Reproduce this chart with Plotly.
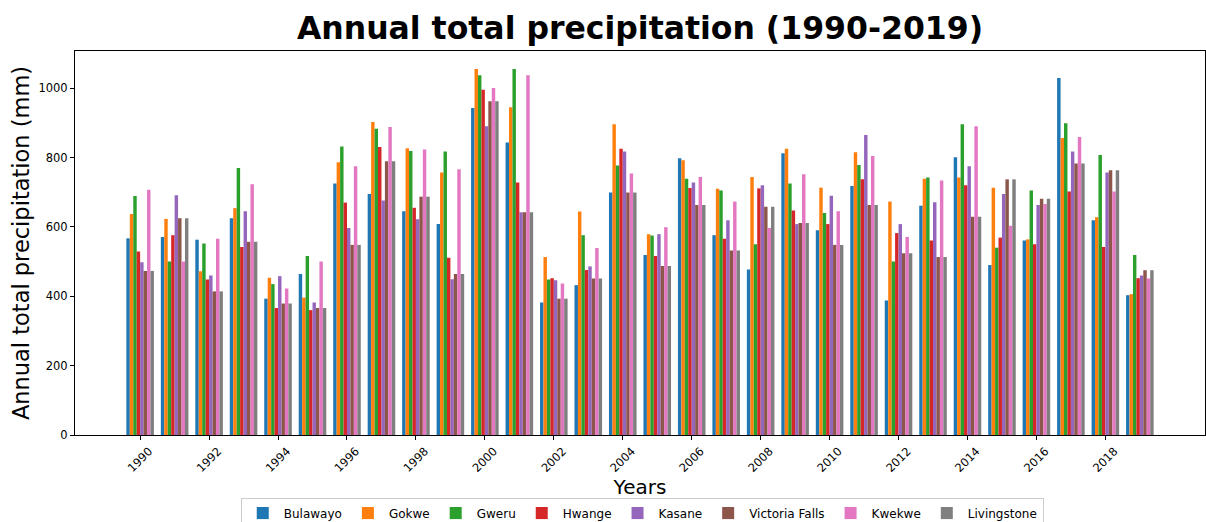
import plotly.graph_objects as go

years = list(range(1990, 2020))

stations = ["Bulawayo", "Gokwe", "Gweru", "Hwange", "Kasane",
            "Victoria Falls", "Kwekwe", "Livingstone"]

bulawayo = [567, 571, 563, 625, 393, 464, 725, 695, 645, 608, 943, 843, 382, 432, 699,
            519, 798, 576, 477, 812, 590, 718, 388, 661, 801, 490, 561, 1029, 619, 403]
gokwe = [637, 623, 472, 654, 453, 396, 786, 902, 827, 757, 1055, 945, 513, 644, 896,
         579, 792, 710, 744, 825, 713, 815, 673, 739, 742, 713, 564, 856, 628, 406]
gweru = [689, 500, 552, 770, 435, 516, 832, 883, 819, 817, 1037, 1055, 448, 576, 777,
         575, 739, 705, 550, 725, 640, 778, 500, 742, 896, 540, 705, 899, 807, 519]
hwange = [529, 576, 448, 542, 366, 360, 670, 830, 655, 511, 995, 728, 452, 476, 825,
          516, 712, 566, 711, 647, 608, 737, 582, 561, 720, 569, 550, 702, 542, 452]
kasane = [498, 691, 460, 645, 458, 382, 597, 676, 622, 449, 890, 642, 446, 486, 817,
          579, 728, 619, 720, 608, 690, 865, 608, 671, 775, 695, 663, 817, 757, 460]
victoria_falls = [473, 625, 414, 557, 379, 366, 548, 789, 687, 464, 962, 642, 393, 451, 699,
                  487, 663, 532, 658, 611, 548, 663, 524, 513, 629, 737, 681, 783, 763, 475]
kwekwe = [707, 500, 566, 723, 422, 500, 775, 888, 823, 766, 1000, 1037, 437, 539, 754,
          599, 744, 673, 597, 752, 645, 804, 571, 734, 890, 603, 666, 859, 702, 451]
livingstone = [473, 625, 414, 557, 379, 366, 548, 789, 687, 464, 962, 642, 393, 451, 699,
               487, 663, 532, 658, 611, 548, 663, 524, 513, 629, 737, 681, 783, 763, 475]

series = [bulawayo, gokwe, gweru, hwange, kasane, victoria_falls, kwekwe, livingstone]
colors = ["#1f77b4", "#ff7f0e", "#2ca02c", "#d62728",
          "#9467bd", "#8c564b", "#e377c2", "#7f7f7f"]

x_tickvals = list(range(1990, 2019, 2))
y_tickvals = [0, 200, 400, 600, 800, 1000]

FONT = "DejaVu Sans"

fig = go.Figure()
for name, vals, col in zip(stations, series, colors):
    fig.add_trace(go.Bar(x=years, y=vals, name=name, marker_color=col,
                         marker_line_width=0))

fig.update_layout(
    width=1206, height=522,
    margin=dict(l=75, r=1, t=51, b=87, autoexpand=False),
    paper_bgcolor="white", plot_bgcolor="white",
    barmode="group", bargap=0.2, bargroupgap=0,
    font=dict(family=FONT, color="black"),
    title=dict(text="Annual total precipitation (1990-2019)",
               font=dict(family=FONT, size=31.5, weight=700, color="black"),
               x=(75 + 1205) / 2 / 1206, xanchor="center",
               yref="container", y=1 - 28 / 522, yanchor="middle"),
    legend=dict(orientation="h", x=0.502, xanchor="center",
                y=-0.163, yanchor="top",
                bordercolor="#cccccc", borderwidth=1, bgcolor="white",
                font=dict(family=FONT, size=12), traceorder="normal",
                itemwidth=32),
    showlegend=True,
)

fig.update_xaxes(range=[1988.11, 2020.89], tickvals=x_tickvals,
                 ticktext=[str(v) for v in x_tickvals],
                 tickangle=-45, ticks="outside", ticklen=4, tickcolor="black",
                 tickfont=dict(family=FONT, size=11.5), ticklabelshift=9,
                 showgrid=False, zeroline=False, automargin=False,
                 showline=True, mirror=True, linecolor="black", linewidth=1,
                 title=dict(text="Years", font=dict(family=FONT, size=20),
                            standoff=6))
fig.update_yaxes(range=[0, 1107], tickvals=y_tickvals,
                 ticks="outside", ticklen=4, tickcolor="black",
                 tickfont=dict(family=FONT, size=11.5), automargin=False,
                 showgrid=False, zeroline=False,
                 showline=True, mirror=True, linecolor="black", linewidth=1,
                 title=dict(text="Annual total precipitation (mm)",
                            font=dict(family=FONT, size=22.5), standoff=2))

fig.write_html("out.html")
